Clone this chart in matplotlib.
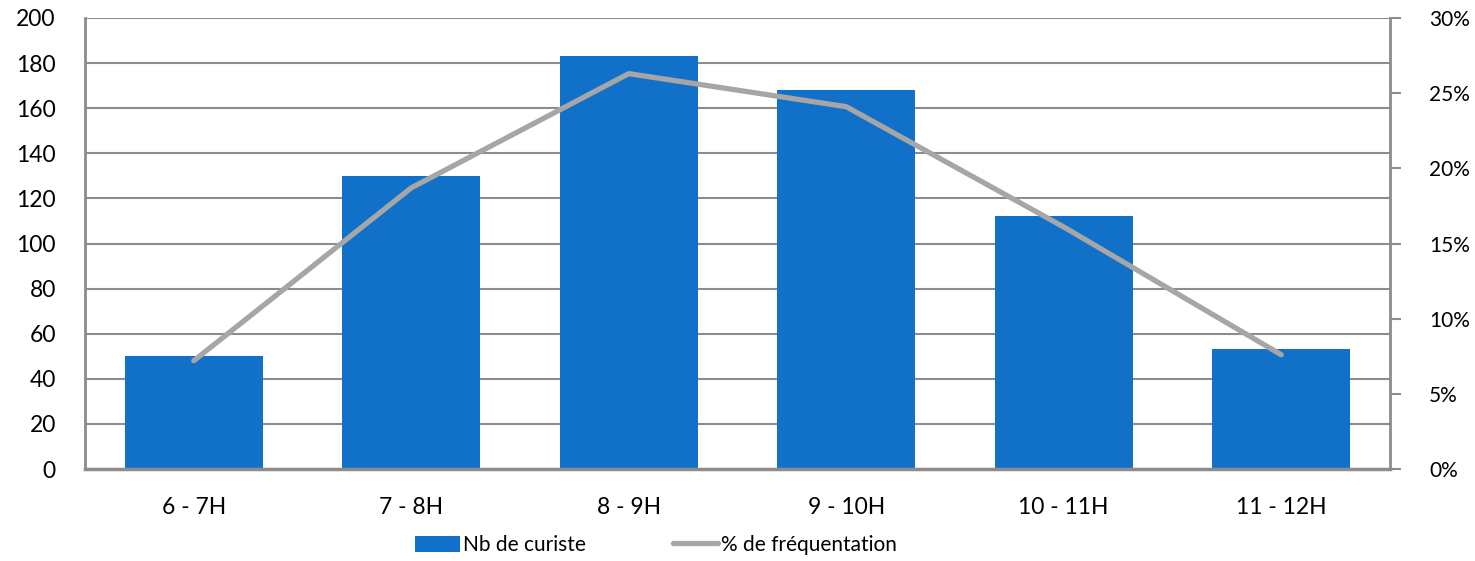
import matplotlib
matplotlib.use("Agg")
import matplotlib.pyplot as plt
from matplotlib.ticker import FuncFormatter, MultipleLocator

plt.rcParams['font.family'] = ['Lato', 'DejaVu Sans']

categories = ["6 - 7H", "7 - 8H", "8 - 9H", "9 - 10H", "10 - 11H", "11 - 12H"]
nb_curistes = [50, 130, 183, 168, 112, 53]
pct_frequentation = [7.2, 18.7, 26.3, 24.1, 16.1, 7.6]

bar_color = "#1170C8"
line_color = "#A6A6A6"
grid_color = "#8C8C8C"

fig = plt.figure(figsize=(14.75, 5.61), dpi=100)
ax = fig.add_axes([85/1475, 1-469/561, (1390-85)/1475, (469-18)/561])
x = list(range(len(categories)))
ax.bar(x, nb_curistes, width=0.635, color=bar_color, zorder=2, label="Nb de curiste")
ax.set_xlim(-0.5, len(categories)-0.5)
ax.set_ylim(0, 200)
ax.yaxis.set_major_locator(MultipleLocator(20))
ax.grid(axis='y', color=grid_color, linewidth=1.5, zorder=0)
ax.set_axisbelow(True)
for s in ['top', 'right']:
    ax.spines[s].set_visible(False)
ax.spines['left'].set_color(grid_color)
ax.spines['left'].set_linewidth(2)
ax.spines['bottom'].set_color(grid_color)
ax.spines['bottom'].set_linewidth(2.5)
ax.tick_params(axis='y', length=0, pad=21, labelsize=16.5)
ax.tick_params(axis='x', length=0, pad=20, labelsize=16.5)
ax.set_xticks(x)
ax.set_xticklabels(categories)

ax2 = ax.twinx()
ax2.plot(x, pct_frequentation, color=line_color, linewidth=3.8, solid_capstyle='round', zorder=3,
         label="% de fréquentation")
ax2.set_ylim(0, 30)
ax2.yaxis.set_major_locator(MultipleLocator(5))
ax2.yaxis.set_major_formatter(FuncFormatter(lambda v, p: f"{int(v)}%"))
for s in ['top', 'left', 'bottom']:
    ax2.spines[s].set_visible(False)
ax2.spines['right'].set_color(grid_color)
ax2.spines['right'].set_linewidth(2)
ax2.tick_params(axis='y', direction='out', length=8, width=1.5, color=grid_color, pad=20, labelsize=15)

h1, l1 = ax.get_legend_handles_labels()
h2, l2 = ax2.get_legend_handles_labels()
fig.legend(h1 + h2, l1 + l2, loc='center', bbox_to_anchor=(656/1475, 1-545/561), ncol=2,
           frameon=False, fontsize=15, handlelength=2.15, handleheight=0.8, handletextpad=0.15,
           columnspacing=4.2)

fig.savefig("out.png", dpi=100)
